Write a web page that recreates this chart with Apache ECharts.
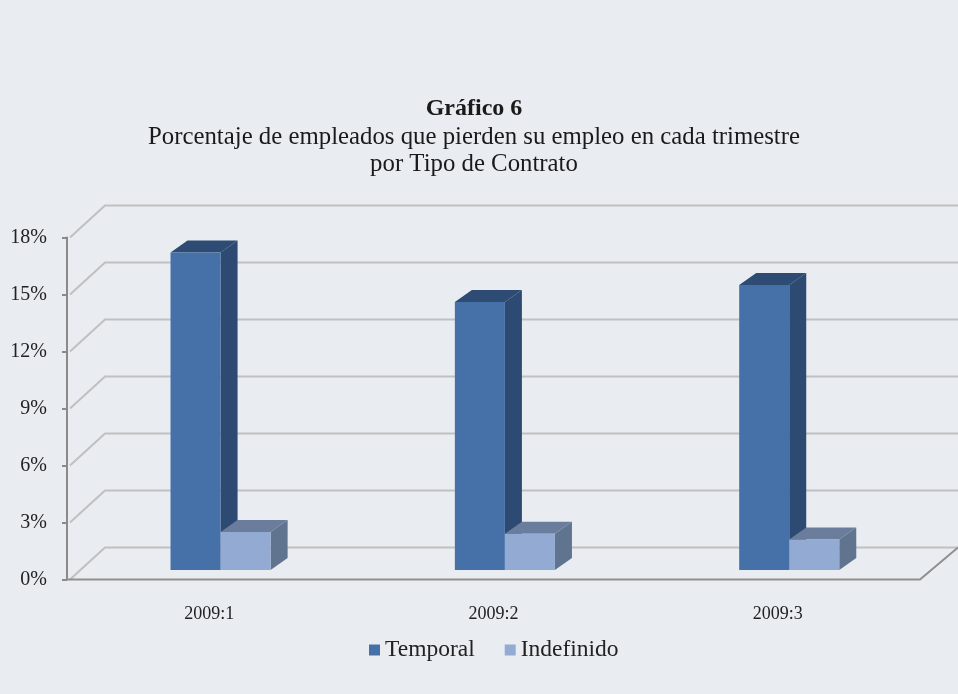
<!DOCTYPE html>
<html>
<head>
<meta charset="utf-8">
<script src="https://cdn.jsdelivr.net/npm/echarts@6/dist/echarts.min.js"></script>
<style>
html,body{margin:0;padding:0;background:#e9edf1;}
#main{width:958px;height:694px;}
</style>
</head>
<body>
<div id="main"></div>
<script>
const categories = ['2009:1', '2009:2', '2009:3'];
const temporal = [16.7, 14.1, 15.0];
const indefinido = [2.0, 1.9, 1.6];
const yTicks = [0, 3, 6, 9, 12, 15, 18];

const FONT = 'Liberation Serif';
const WALL_DX = 38, WALL_DY = -32;     // depth of the side wall / floor
const BAR_SHIFT = 0.3;                 // bars sit at 30% of the depth
const BAR_DX = 17, BAR_DY = -12;       // depth of each bar

function barRenderer(side, front, sideCol, topCol) {
  return function (params, api) {
    const i = api.value(0);
    const base = api.coord([i, 0]);
    const top = api.coord([i, api.value(1)]);
    const band = api.size([1, 0])[0];
    const w = band * 0.176;
    const sx = WALL_DX * BAR_SHIFT, sy = WALL_DY * BAR_SHIFT;
    const x0 = base[0] + sx + (side === 0 ? -w : 0);
    const x1 = x0 + w;
    const yb = base[1] + sy;
    const yt = top[1] + sy;
    return {
      type: 'group',
      children: [
        { type: 'polygon', shape: { points: [[x1, yb], [x1 + BAR_DX, yb + BAR_DY], [x1 + BAR_DX, yt + BAR_DY], [x1, yt]] }, style: { fill: sideCol } },
        { type: 'polygon', shape: { points: [[x0, yt], [x1, yt], [x1 + BAR_DX, yt + BAR_DY], [x0 + BAR_DX, yt + BAR_DY]] }, style: { fill: topCol } },
        { type: 'rect', shape: { x: x0, y: yt, width: w, height: yb - yt }, style: { fill: front } }
      ]
    };
  };
}

const chart = echarts.init(document.getElementById('main'));
chart.setOption({
  backgroundColor: '#e9edf1',
  animation: false,
  textStyle: { fontFamily: FONT },
  graphic: [
    { type: 'text', x: 474, y: 97, style: { text: 'Gráfico 6', font: 'bold 24px "Liberation Serif"', fill: '#1a1a1a', align: 'center' } },
    { type: 'text', x: 474, y: 125, style: { text: 'Porcentaje de empleados que pierden su empleo en cada trimestre', font: '24.8px "Liberation Serif"', fill: '#1a1a1a', align: 'center' } },
    { type: 'text', x: 474, y: 152, style: { text: 'por Tipo de Contrato', font: '24.8px "Liberation Serif"', fill: '#1a1a1a', align: 'center' } }
  ],
  legend: {
    bottom: 27,
    left: 364,
    icon: 'rect',
    itemWidth: 11,
    itemHeight: 11,
    itemGap: 30,
    data: ['Temporal', 'Indefinido'],
    textStyle: { fontFamily: FONT, fontSize: 23.5, color: '#222', padding: [0, 0, 0, 0] }
  },
  grid: { left: 67, right: 38, top: 237.5, bottom: 114.5 },
  xAxis: {
    type: 'category',
    data: categories,
    axisLine: { show: false },
    axisTick: { show: false },
    axisLabel: { fontFamily: FONT, fontSize: 18, color: '#222', margin: 26 }
  },
  yAxis: {
    type: 'value',
    min: 0, max: 18, interval: 3,
    axisLine: { show: true, lineStyle: { color: '#8a8a8a', width: 2 } },
    axisTick: { show: true, length: 5, lineStyle: { color: '#8a8a8a', width: 2 } },
    splitLine: { show: false },
    axisLabel: { formatter: '{value}%', fontFamily: FONT, fontSize: 20, color: '#222', margin: 20 }
  },
  series: [
    {
      type: 'custom',
      name: 'walls',
      silent: true,
      z: 1,
      data: yTicks.map(v => [0, v]),
      encode: { x: 0, y: 1 },
      renderItem: function (params, api) {
        const cs = params.coordSys;
        const y = api.coord([0, api.value(1)])[1];
        const x0 = cs.x;
        const children = [
          { type: 'polyline', shape: { points: [[x0 + 3, y], [x0 + WALL_DX, y + WALL_DY], [x0 + cs.width + WALL_DX, y + WALL_DY]] }, style: { stroke: '#c0c0c0', lineWidth: 2, fill: null } }
        ];
        if (api.value(1) === 0) {
          children.push({ type: 'polyline', shape: { points: [[x0, y], [x0 + cs.width, y], [x0 + cs.width + WALL_DX, y + WALL_DY]] }, style: { stroke: '#8f8f8f', lineWidth: 2, fill: null } });
        }
        return { type: 'group', children: children };
      }
    },
    {
      type: 'custom',
      name: 'Temporal',
      z: 3,
      itemStyle: { color: '#4670a8' },
      data: temporal.map((v, i) => [i, v]),
      encode: { x: 0, y: 1 },
      renderItem: barRenderer(0, '#4670a8', '#2d4a72', '#2e4b73')
    },
    {
      type: 'custom',
      name: 'Indefinido',
      z: 4,
      itemStyle: { color: '#93abd3' },
      data: indefinido.map((v, i) => [i, v]),
      encode: { x: 0, y: 1 },
      renderItem: barRenderer(1, '#93abd3', '#60738f', '#6b7d9c')
    }
  ]
});
</script>
</body>
</html>
